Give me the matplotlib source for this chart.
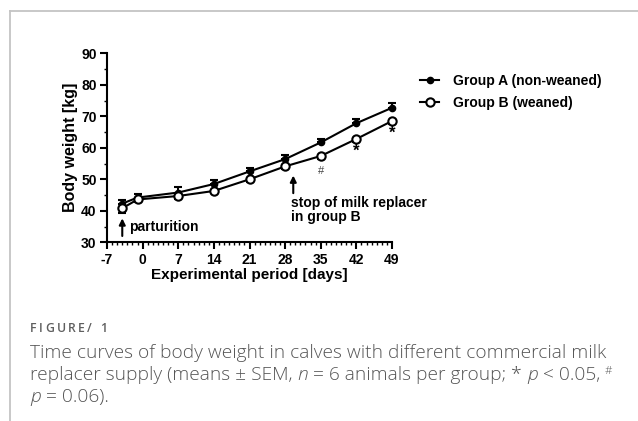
import matplotlib
matplotlib.use("Agg")
import matplotlib.pyplot as plt
from matplotlib.lines import Line2D
from matplotlib.ticker import MultipleLocator
import matplotlib.transforms as mtransforms

# days relative to start of experiment
days = [-4, -1, 7, 14, 21, 28, 35, 42, 49]
group_a = [42.3, 44.2, 45.8, 48.5, 52.5, 56.4, 61.7, 67.8, 72.7]
sem_a = [1.2, 1.0, 1.6, 1.4, 1.2, 1.2, 1.2, 1.3, 1.6]
group_b = [40.8, 43.6, 44.7, 46.3, 50.0, 54.1, 57.4, 62.8, 68.5]
sem_b = [1.6, 0.8, 0.8, 0.7, 0.7, 0.8, 0.8, 0.8, 0.8]

xticks = [-7, 0, 7, 14, 21, 28, 35, 42, 49]
xtick_labels = ["-7", "0", "7", "14", "21", "28", "35", "42", "49"]
yticks = [30, 40, 50, 60, 70, 80, 90]

labels = ["Group A (non-weaned)", "Group B (weaned)"]

# significance marks: (day, y position, symbol)
marks = [(35, 52.6, "#"), (42, 59.0, "*"), (49, 64.6, "*")]

W, H = 638, 421
plt.rcParams["font.family"] = ["Liberation Sans", "DejaVu Sans"]
fig = plt.figure(figsize=(W / 100, H / 100), dpi=100)
ax = fig.add_axes([107 / W, 1 - 242.3 / H, (392 - 107) / W, (242.3 - 53.3) / H])

bold = dict(fontweight="bold")
style_a = dict(color="black", lw=1.5, marker="o", ms=4.5, mfc="black", mec="black")
style_b = dict(color="black", lw=1.5, marker="o", ms=6, mfc="white", mec="black", mew=1.5)

ax.errorbar(days, group_a, yerr=[[0] * len(sem_a), sem_a], capsize=3,
            capthick=1.5, elinewidth=1.5, clip_on=False, zorder=3, **style_a)
ax.errorbar(days, group_b, yerr=[sem_b, [0] * len(sem_b)], capsize=3,
            capthick=1.5, elinewidth=1.5, clip_on=False, zorder=4, **style_b)

for d, yv, s in marks:
    if s == "#":
        ax.text(d, yv, s, ha="center", va="center", fontsize=8, color="#444444")
    else:
        ax.text(d, yv, s, ha="center", va="center", fontsize=12, **bold)

ax.set_xlim(-7, 49)
ax.set_ylim(30, 90)
ax.set_xticks(xticks)
ax.set_xticklabels(xtick_labels)
ax.set_yticks(yticks)
ax.xaxis.set_minor_locator(MultipleLocator(1))
ax.yaxis.set_minor_locator(MultipleLocator(5))
for side in ("top", "right"):
    ax.spines[side].set_visible(False)
for side in ("left", "bottom"):
    ax.spines[side].set_linewidth(1.5)
ax.tick_params(which="major", length=5, width=1.5, pad=2.5, labelsize=10)
ax.tick_params(which="minor", length=2.5, width=1)
for lab in ax.get_xticklabels() + ax.get_yticklabels():
    lab.set_fontweight("bold")

ax.set_xlabel("Experimental period [days]", fontsize=11, labelpad=1, **bold)
ax.set_ylabel("Body weight [kg]", fontsize=11.5, labelpad=2, **bold)

arrow = dict(arrowstyle="-|>", lw=1.5, color="black", mutation_scale=9,
             shrinkA=0, shrinkB=0)
ax.annotate("", xy=(-4, 37.6), xytext=(-4, 32.0), arrowprops=arrow)
ax.text(-2.6, 34.7, "parturition", ha="left", va="center", fontsize=10, **bold)
ax.annotate("", xy=(29.6, 51.2), xytext=(29.6, 45.6), arrowprops=arrow)
ax.text(29.1, 42.6, "stop of milk replacer", ha="left", va="center",
        fontsize=10, **bold)
ax.text(29.1, 38.1, "in group B", ha="left", va="center", fontsize=10, **bold)

handles = [Line2D([], [], **style_a), Line2D([], [], **style_b)]
fig.legend(handles, labels, loc="upper left",
           bbox_to_anchor=(420 / W, 1 - 74 / H), frameon=False,
           handlelength=1.4, handletextpad=1.0, labelspacing=0.55,
           borderpad=0, borderaxespad=0, prop=dict(size=10, weight="bold"))

# page frame
frame_col = "#c4c4c4"
fig.add_artist(Line2D([10 / W, 1], [1 - 11 / H, 1 - 11 / H],
                      transform=fig.transFigure, color=frame_col, lw=1.3))
fig.add_artist(Line2D([10 / W, 10 / W], [0, 1 - 11 / H],
                      transform=fig.transFigure, color=frame_col, lw=1.3))

# caption
cap_col = "#555555"
cap_font = ["Open Sans", "DejaVu Sans"]
renderer = fig.canvas.get_renderer()
px = mtransforms.IdentityTransform()


def advance(s, **kw):
    t1 = fig.text(0, 0, s + "|", transform=px, **kw)
    t2 = fig.text(0, 0, "|", transform=px, **kw)
    w = t1.get_window_extent(renderer).width - t2.get_window_extent(renderer).width
    t1.remove()
    t2.remove()
    return w


def draw_runs(x, y, runs, size=13.8, color=cap_col, weight="light", track=0):
    for s, style, rise, scale in runs:
        kw = dict(fontsize=size * scale, color=color, family=cap_font,
                  style=style, fontweight=weight)
        fig.text(x, H - y + rise, s, transform=px, va="center", **kw)
        x += advance(s, **kw) + track


draw_runs(30, 329, [(c, "normal", 0, 1) for c in "FIGURE/ 1"], size=8.8,
          color="#5f5f5f", weight="semibold", track=2.4)
draw_runs(30, 353, [("Time curves of body weight in calves with different "
                     "commercial milk", "normal", 0, 1)])
draw_runs(30, 375.5, [("replacer supply (means ± SEM, ", "normal", 0, 1),
                      ("n", "italic", 0, 1),
                      (" = 6 animals per group; * ", "normal", 0, 1),
                      ("p", "italic", 0, 1),
                      (" < 0.05, ", "normal", 0, 1),
                      ("#", "normal", 4, 0.6)])
draw_runs(30, 397, [("p", "italic", 0, 1), (" = 0.06).", "normal", 0, 1)])

fig.savefig("out.png", dpi=100)
